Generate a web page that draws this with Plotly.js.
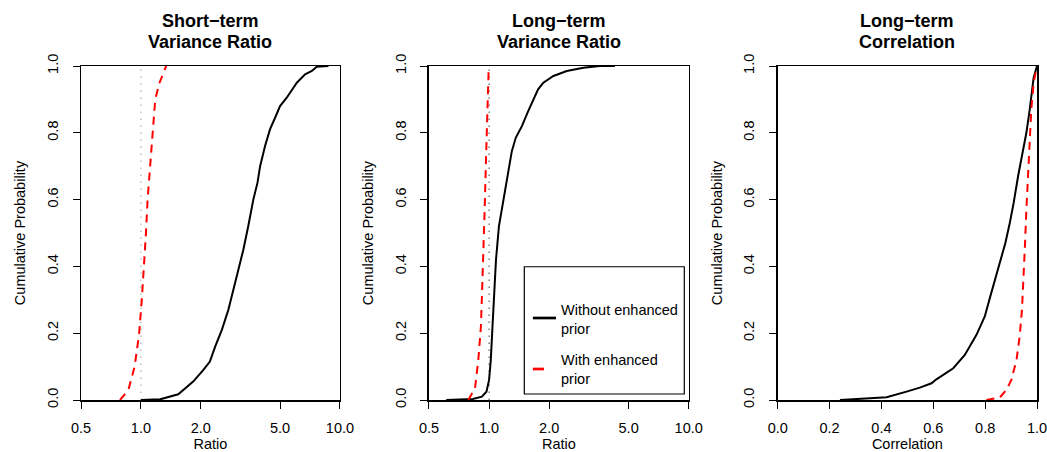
<!DOCTYPE html>
<html>
<head>
<meta charset="utf-8">
<script src="https://cdn.plot.ly/plotly-3.0.1.min.js"></script>
<style>html,body{margin:0;padding:0;background:#fff;}#chart{width:1047px;height:452px;}</style>
</head>
<body>
<div id="chart"></div>
<script>
// ---- Data ----
var panelTitles = [["Short\u2212term", "Variance Ratio"], ["Long\u2212term", "Variance Ratio"], ["Long\u2212term", "Correlation"]];
var seriesNames = ["Without enhanced prior", "With enhanced prior"];
var legendLabels = ["Without enhanced<br>prior", "With enhanced<br>prior"];
var xAxisTitles = ["Ratio", "Ratio", "Correlation"];
var yAxisTitle = "Cumulative Probability";

var ratioTickVals = [0.5, 1, 2, 5, 10];
var ratioTickText = ["0.5", "1.0", "2.0", "5.0", "10.0"];
var corrTickVals = [0, 0.2, 0.4, 0.6, 0.8, 1.0];
var probTickVals = [0, 0.2, 0.4, 0.6, 0.8, 1.0];
var referenceRatio = 1;

// Short-term variance ratio, without enhanced prior
var stNoX = [1.0, 1.25, 1.54, 1.83, 2.06, 2.22, 2.36, 2.55, 2.75, 2.91, 3.08, 3.27, 3.46, 3.67, 3.85, 3.97, 4.20, 4.45, 4.72, 5.0, 5.40, 5.73, 6.07, 6.68, 7.22, 7.65, 8.75];
var stNoP = [0, 0.002, 0.017, 0.055, 0.09, 0.115, 0.16, 0.21, 0.27, 0.33, 0.39, 0.45, 0.52, 0.60, 0.65, 0.70, 0.76, 0.81, 0.845, 0.88, 0.905, 0.93, 0.95, 0.975, 0.985, 0.998, 1.0];
// Short-term variance ratio, with enhanced prior
var stWithX = [0.785, 0.865, 0.93, 0.98, 1.01, 1.037, 1.06, 1.08, 1.11, 1.14, 1.18, 1.24, 1.34];
var stWithP = [0, 0.03, 0.10, 0.20, 0.30, 0.40, 0.50, 0.60, 0.70, 0.80, 0.90, 0.95, 1.0];

// Long-term variance ratio, without enhanced prior
var ltNoX = [0.61, 0.72, 0.83, 0.92, 0.97, 1.0, 1.02, 1.04, 1.06, 1.083, 1.12, 1.18, 1.24, 1.30, 1.36, 1.46, 1.57, 1.67, 1.76, 1.87, 2.10, 2.45, 2.97, 3.59, 4.27];
var ltNoP = [0, 0.001, 0.003, 0.01, 0.025, 0.06, 0.12, 0.22, 0.32, 0.42, 0.52, 0.60, 0.68, 0.745, 0.785, 0.82, 0.865, 0.90, 0.93, 0.95, 0.97, 0.985, 0.995, 1.0, 1.0];
// Long-term variance ratio, with enhanced prior
var ltWithX = [0.787, 0.85, 0.883, 0.91, 0.922, 0.935, 0.95, 0.965, 0.98, 0.995];
var ltWithP = [0, 0.035, 0.12, 0.22, 0.32, 0.42, 0.57, 0.72, 0.87, 0.99];

// Long-term correlation, without enhanced prior
var lcNoX = [0.24, 0.343, 0.42, 0.497, 0.548, 0.593, 0.612, 0.677, 0.7215, 0.7666, 0.7986, 0.818, 0.837, 0.856, 0.878, 0.895, 0.910, 0.927, 0.944, 0.959, 0.972, 0.982, 0.987, 0.998, 1.0];
var lcNoP = [0, 0.004, 0.008, 0.025, 0.037, 0.05, 0.062, 0.095, 0.135, 0.195, 0.25, 0.305, 0.355, 0.41, 0.47, 0.53, 0.59, 0.67, 0.74, 0.80, 0.87, 0.94, 0.965, 0.995, 1.0];
// Long-term correlation, with enhanced prior
var lcWithX = [0.805, 0.856, 0.882, 0.901, 0.921, 0.933, 0.942, 0.949, 0.954, 0.959, 0.965, 0.972, 0.978, 0.987, 0.998, 1.0];
var lcWithP = [0, 0.007, 0.03, 0.06, 0.12, 0.19, 0.27, 0.37, 0.47, 0.57, 0.67, 0.77, 0.87, 0.95, 0.995, 1.0];

// ---- Styles ----
var FONT = "Liberation Sans, Arial, Helvetica, sans-serif";
var solidLine = {color: "#000000", width: 2};
var dashLine = {color: "#ff0000", width: 2, dash: "8px,6px"};

function curve(x, y, name, line, xa, ya) {
  return {type: "scatter", mode: "lines", x: x, y: y, name: name, line: line,
          xaxis: xa, yaxis: ya, showlegend: false, hoverinfo: "x+y+name"};
}
function refLine(xa, ya, color) {
  return {type: "scatter", mode: "lines", x: [referenceRatio, referenceRatio], y: [0, 1],
          line: {color: color, width: 1, dash: "1.5px,5.5px"}, xaxis: xa, yaxis: ya,
          showlegend: false, hoverinfo: "skip"};
}

var traces = [
  refLine("x", "y", "#a0a0a0"),
  curve(stNoX, stNoP, seriesNames[0], solidLine, "x", "y"),
  curve(stWithX, stWithP, seriesNames[1], dashLine, "x", "y"),
  refLine("x2", "y2", "#404040"),
  curve(ltNoX, ltNoP, seriesNames[0], solidLine, "x2", "y2"),
  curve(ltWithX, ltWithP, seriesNames[1], dashLine, "x2", "y2"),
  curve(lcNoX, lcNoP, seriesNames[0], solidLine, "x3", "y3"),
  curve(lcWithX, lcWithP, seriesNames[1], dashLine, "x3", "y3")
];

var tickFont = {family: FONT, size: 14.5, color: "#000"};
function xCommon(o) {
  var base = {ticks: "outside", ticklen: 7, tickwidth: 1, tickcolor: "#000", showline: true, linecolor: "#000",
              linewidth: 1.5, mirror: true, showgrid: false, zeroline: false, tickfont: tickFont,
              ticklabelstandoff: 7, ticklabeloverflow: "allow"};
  for (var k in o) base[k] = o[k];
  return base;
}
function xLog(domain, title, anchor) {
  return xCommon({domain: domain, anchor: anchor, type: "log", range: [Math.log10(0.5), Math.log10(10)],
          tickvals: ratioTickVals, ticktext: ratioTickText,
          title: {text: title, font: tickFont, standoff: 6}});
}
function yProb(anchor) {
  return {domain: [0, 1], anchor: anchor, range: [0, 1], tickvals: probTickVals, tickformat: ".1f",
          ticks: "outside", ticklen: 7, tickwidth: 1, tickcolor: "#000", tickangle: -90,
          showline: true, linecolor: "#000", linewidth: 1.5, mirror: true, showgrid: false, zeroline: false,
          tickfont: tickFont, ticklabelstandoff: 9, ticklabeloverflow: "allow",
          title: {text: yAxisTitle, font: tickFont, standoff: 15}};
}

var layout = {
  width: 1047, height: 452,
  margin: {l: 81, r: 10, t: 66, b: 52},
  paper_bgcolor: "#fff", plot_bgcolor: "#fff",
  font: {family: FONT, color: "#000"},
  showlegend: false,
  xaxis: xLog([0, 0.2709], xAxisTitles[0], "y"),
  xaxis2: xLog([0.3640, 0.6357], xAxisTitles[1], "y2"),
  xaxis3: xCommon({domain: [0.7288, 1], anchor: "y3", range: [0, 1], tickvals: corrTickVals, tickformat: ".1f",
           title: {text: xAxisTitles[2], font: tickFont, standoff: 6}}),
  yaxis: yProb("x"),
  yaxis2: yProb("x2"),
  yaxis3: yProb("x3"),
  annotations: [],
  shapes: []
};

var axNames = ["x", "x2", "x3"];
for (var i = 0; i < 3; i++) {
  layout.annotations.push({xref: axNames[i] + " domain", yref: "paper", x: 0.5, y: 1.1347,
    text: "<b>" + panelTitles[i][0] + "</b>", showarrow: false, xanchor: "center", yanchor: "middle",
    font: {family: FONT, size: 18, color: "#000"}});
  layout.annotations.push({xref: axNames[i] + " domain", yref: "paper", x: 0.5, y: 1.0719,
    text: "<b>" + panelTitles[i][1] + "</b>", showarrow: false, xanchor: "center", yanchor: "middle",
    font: {family: FONT, size: 18, color: "#000"}});
}

// Legend (drawn in panel 2)
layout.shapes.push({type: "rect", xref: "x2 domain", yref: "y2 domain", x0: 0.367, x1: 0.983, y0: 0.018, y1: 0.399,
  line: {color: "#000", width: 1.2}, fillcolor: "#fff", layer: "above"});
layout.shapes.push({type: "line", xref: "x2 domain", yref: "y2 domain", x0: 0.400, x1: 0.489, y0: 0.2455, y1: 0.2455,
  line: {color: "#000", width: 2.7}});
layout.shapes.push({type: "line", xref: "x2 domain", yref: "y2 domain", x0: 0.400, x1: 0.443, y0: 0.0928, y1: 0.0928,
  line: {color: "#ff0000", width: 2.7}});
layout.annotations.push({xref: "x2 domain", yref: "y2 domain", x: 0.5017, y: 0.2425, text: legendLabels[0],
  showarrow: false, xanchor: "left", yanchor: "middle", align: "left", font: {family: FONT, size: 14.5, color: "#000"}});
layout.annotations.push({xref: "x2 domain", yref: "y2 domain", x: 0.5017, y: 0.0928, text: legendLabels[1],
  showarrow: false, xanchor: "left", yanchor: "middle", align: "left", font: {family: FONT, size: 14.5, color: "#000"}});

Plotly.newPlot("chart", traces, layout, {staticPlot: true, displayModeBar: false});
</script>
</body>
</html>
